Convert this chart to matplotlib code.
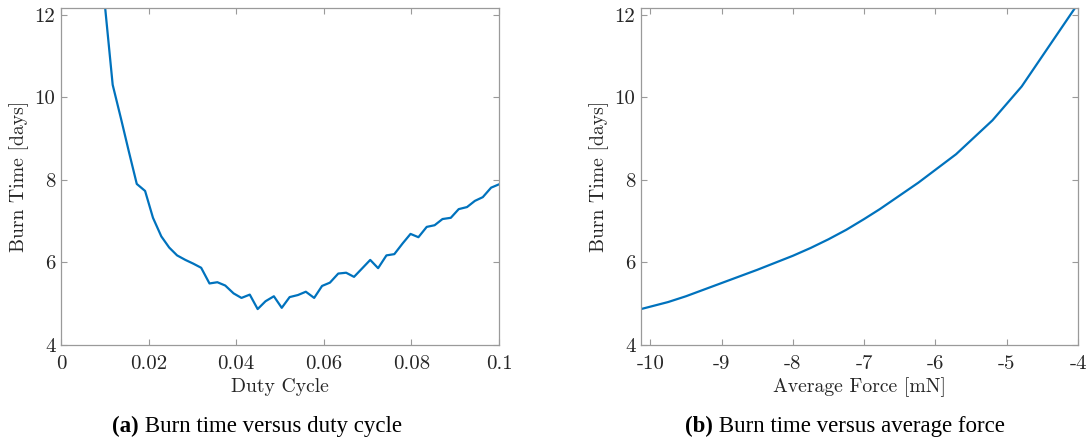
import matplotlib
matplotlib.use("Agg")
import matplotlib.pyplot as plt

plt.rcParams['font.family'] = 'cmr10'
plt.rcParams['mathtext.fontset'] = 'cm'
plt.rcParams['axes.unicode_minus'] = False
plt.rcParams['axes.formatter.use_mathtext'] = True

duty_cycle = [0.0100, 0.0118, 0.0137, 0.0155, 0.0173, 0.0192, 0.0210, 0.0229, 0.0247, 0.0265,
              0.0284, 0.0302, 0.0320, 0.0339, 0.0357, 0.0375, 0.0394, 0.0412, 0.0431, 0.0449,
              0.0467, 0.0486, 0.0504, 0.0522, 0.0541, 0.0559, 0.0578, 0.0596, 0.0614, 0.0633,
              0.0651, 0.0669, 0.0688, 0.0706, 0.0724, 0.0743, 0.0761, 0.0780, 0.0798, 0.0816,
              0.0835, 0.0853, 0.0871, 0.0890, 0.0908, 0.0927, 0.0945, 0.0963, 0.0982, 0.1000]
burn_time_duty = [12.25, 10.30, 9.48, 8.68, 7.90, 7.73, 7.08, 6.63, 6.36, 6.17,
                  6.06, 5.97, 5.87, 5.49, 5.52, 5.44, 5.25, 5.14, 5.22, 4.87,
                  5.06, 5.18, 4.90, 5.16, 5.21, 5.29, 5.14, 5.43, 5.51, 5.73,
                  5.75, 5.65, 5.86, 6.06, 5.86, 6.17, 6.20, 6.46, 6.69, 6.61,
                  6.86, 6.90, 7.05, 7.08, 7.29, 7.34, 7.49, 7.58, 7.81, 7.89]

avg_force = [-10.13, -9.75, -9.5, -9.25, -9.0, -8.75, -8.5, -8.25, -8.0, -7.75, -7.5, -7.25,
             -7.0, -6.78, -6.24, -5.71, -5.20, -4.79, -4.05]
burn_time_force = [4.87, 5.04, 5.18, 5.34, 5.50, 5.66, 5.82, 5.99, 6.16, 6.35, 6.56, 6.79,
                   7.05, 7.29, 7.93, 8.62, 9.44, 10.26, 12.14]

x_ticks_a = [0, 0.02, 0.04, 0.06, 0.08, 0.1]
x_labels_a = ['0', '0.02', '0.04', '0.06', '0.08', '0.1']
x_ticks_b = [-10, -9, -8, -7, -6, -5, -4]
x_labels_b = ['-10', '-9', '-8', '-7', '-6', '-5', '-4']
y_ticks = [4, 6, 8, 10, 12]
y_labels = ['4', '6', '8', '10', '12']

line_color = '#0072BD'
axis_color = '#9a9a9a'
text_color = '#262626'

fig = plt.figure(figsize=(10.9, 4.43), dpi=100)
ax1 = fig.add_axes([61/1090, 1 - 345/443, (499 - 61)/1090, (345 - 8)/443])
ax2 = fig.add_axes([641/1090, 1 - 345/443, (1078 - 641)/1090, (345 - 8)/443])

def style(ax):
    for s in ax.spines.values():
        s.set_color(axis_color)
        s.set_linewidth(0.9)
    ax.tick_params(direction='in', length=4, width=0.8, color=axis_color,
                   labelcolor=text_color, labelsize=15, top=True, right=True)
    ax.tick_params(axis='x', pad=7)
    ax.tick_params(axis='y', pad=4)
    ax.set_yticks(y_ticks)
    ax.set_yticklabels(y_labels)
    ax.set_ylim(4, 12.16)
    ax.set_ylabel('Burn Time [days]', fontsize=14.2, color=text_color, labelpad=4)

ax1.plot(duty_cycle, burn_time_duty, color=line_color, lw=1.6)
style(ax1)
ax1.set_xlim(0, 0.1)
ax1.set_xticks(x_ticks_a)
ax1.set_xticklabels(x_labels_a)
ax1.set_xlabel('Duty Cycle', fontsize=14.2, color=text_color, labelpad=3.5)

ax2.plot(avg_force, burn_time_force, color=line_color, lw=1.6)
style(ax2)
ax2.set_xlim(-10.13, -4)
ax2.set_xticks(x_ticks_b)
ax2.set_xticklabels(x_labels_b)
ax2.set_xlabel('Average Force [mN]', fontsize=14.2, color=text_color, labelpad=3.5)

cap_font = {'family': 'Liberation Serif', 'size': 16.5}
def caption(xc, tag, rest):
    t1 = fig.text(0, 0, tag, fontdict=cap_font, fontweight='bold')
    t2 = fig.text(0, 0, rest, fontdict=cap_font)
    fig.canvas.draw()
    r = fig.canvas.get_renderer()
    w1 = t1.get_window_extent(r).width
    w2 = t2.get_window_extent(r).width
    tot = w1 + w2
    x0 = xc - tot / 2
    y = 1 - 432/443
    t1.set_position((x0/1090, y))
    t2.set_position(((x0 + w1)/1090, y))

caption(257, '(a)', ' Burn time versus duty cycle')
caption(845, '(b)', ' Burn time versus average force')

fig.savefig('out.png', dpi=100)
